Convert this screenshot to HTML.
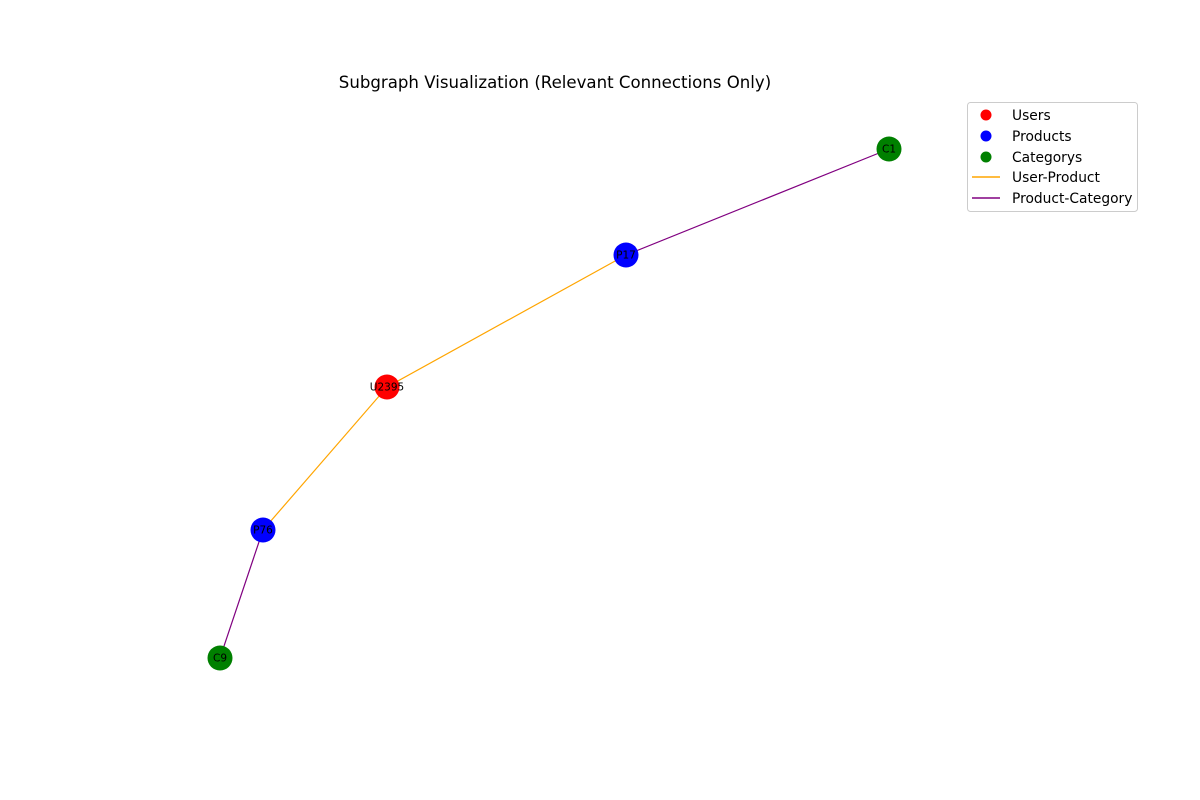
<!DOCTYPE html>
<html><head><meta charset="utf-8"><style>
body{margin:0;background:#fff;}
svg{display:block;font-family:"DejaVu Sans","Liberation Sans",sans-serif;}
</style></head><body>
<svg id="chart" width="1200" height="800">
<text x="555" y="88" text-anchor="middle" font-size="16.6">Subgraph Visualization (Relevant Connections Only)</text>
<g id="edges"></g><g id="nodes"></g>
<g>
<rect x="967.5" y="102.5" width="170" height="109" rx="3" fill="#fff" stroke="#ccc"/>
<circle cx="986" cy="115" r="5.5" fill="red"/>
<text x="1012" y="120" font-size="13.8">Users</text>
<circle cx="986" cy="136" r="5.5" fill="blue"/>
<text x="1012" y="141" font-size="13.8">Products</text>
<circle cx="986" cy="157" r="5.5" fill="green"/>
<text x="1012" y="162" font-size="13.8">Categorys</text>
<line x1="972" y1="177" x2="1000" y2="177" stroke="orange" stroke-width="1.5"/>
<text x="1012" y="182" font-size="13.8">User-Product</text>
<line x1="972" y1="198" x2="1000" y2="198" stroke="purple" stroke-width="1.5"/>
<text x="1012" y="203" font-size="13.8">Product-Category</text>
</g>
</svg>
<script>
const nodeNames=["U2395","P17","P76","C1","C9"];
const nodeX=[387,626,263,889,220];
const nodeY=[387,255,530,149,658];
const nodeTypes=["user","product","product","category","category"];
const edgeSources=["U2395","P17","U2395","P76"];
const edgeTargets=["P17","C1","P76","C9"];
const edgeTypes=["user-product","product-category","user-product","product-category"];
const colors={user:"red",product:"blue",category:"green","user-product":"orange","product-category":"purple"};
const ns="http://www.w3.org/2000/svg";
const E=document.getElementById("edges"),N=document.getElementById("nodes");
const idx=n=>nodeNames.indexOf(n);
edgeSources.forEach((s,i)=>{
 const a=idx(s),b=idx(edgeTargets[i]);
 const l=document.createElementNS(ns,"line");
 l.setAttribute("x1",nodeX[a]);l.setAttribute("y1",nodeY[a]);
 l.setAttribute("x2",nodeX[b]);l.setAttribute("y2",nodeY[b]);
 l.setAttribute("stroke",colors[edgeTypes[i]]);l.setAttribute("stroke-width","1.2");
 
 
 E.appendChild(l);
});
nodeNames.forEach((n,i)=>{
 const c=document.createElementNS(ns,"circle");
 c.setAttribute("cx",nodeX[i]);c.setAttribute("cy",nodeY[i]);c.setAttribute("r","12.5");
 c.setAttribute("fill",colors[nodeTypes[i]]);
 
 
 N.appendChild(c);
 const t=document.createElementNS(ns,"text");
 t.setAttribute("x",nodeX[i]);t.setAttribute("y",nodeY[i]+3.5);
 t.setAttribute("text-anchor","middle");t.setAttribute("font-size","10.5");
 t.textContent=n;
 
 
 N.appendChild(t);
});
</script>
</body></html>
